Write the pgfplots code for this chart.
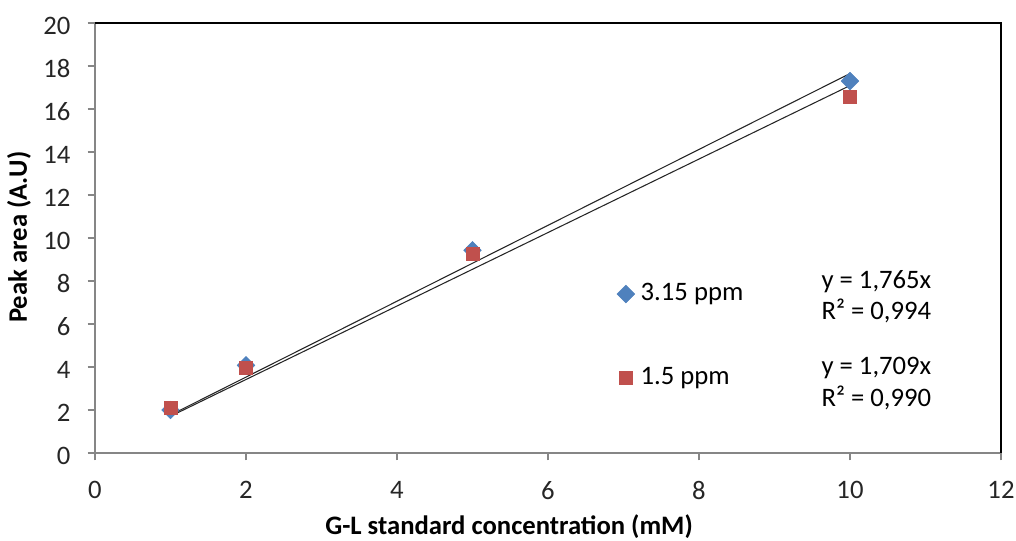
\documentclass[border=0pt]{standalone}
\usepackage{fontspec}
\setmainfont{Carlito}
\usepackage{pgfplots}
\pgfplotsset{compat=1.18}
\definecolor{xblue}{HTML}{4F81BD}
\definecolor{xred}{HTML}{C0504D}
\definecolor{axgray}{HTML}{868686}
\begin{document}
\fontsize{20}{23}\selectfont
\begin{tikzpicture}[x=1pt,y=1pt]
\begin{axis}[
  scale only axis,
  width=679.5pt, height=322.5pt,
  xmin=0, xmax=12, ymin=0, ymax=20,
  xtick={0,2,...,12}, ytick={0,2,...,20},
  axis x line*=bottom, axis y line*=left,
  axis line style={axgray, line width=0.8pt},
  tick style={axgray, line width=0.8pt},
  tick align=outside, major tick length=5.5pt,
  tick label style={font=\fontsize{20}{23}\selectfont, text=black!85},
  /pgf/number format/assume math mode=true,
  yticklabel style={xshift=-6pt, yshift=-2pt},
  xticklabel style={yshift=-9pt},
  xlabel={\bfseries G-L standard concentration (mM)},
  ylabel={\bfseries Peak area (A.U)},
  label style={font=\fontsize{20}{23}\selectfont, text=black},
  xlabel style={at={(axis description cs:0.457,-0.190)}, anchor=base},
  ylabel style={at={(axis description cs:-0.0751,0.502)}, anchor=base},
  legend style={draw=none, fill=none, at={(axis cs:6.91,7.9)}, anchor=north west,
    font=\fontsize{20}{23}\selectfont, row sep=47pt, inner sep=0pt,
    nodes={inner sep=0pt},
    /tikz/every odd column/.append style={column sep=4.5pt}},
  legend cell align=left,
  clip=false,
]
\addplot[only marks, mark=square*, mark options={rotate=45, fill=xblue, draw=xblue}, mark size=4.7pt]
  coordinates {(1,2.0) (2,4.08) (5,9.43) (10,17.3)};
\addlegendentry{3.15 ppm}
\addplot[only marks, mark=square*, mark options={fill=xred, draw=xred}, mark size=5pt]
  coordinates {(1,2.1) (2,3.97) (5,9.27) (10,16.58)};
\addlegendentry{1.5 ppm}
\addplot[forget plot, black!85, line width=0.8pt] coordinates {(1,1.765) (10,17.65)};
\addplot[forget plot, black!85, line width=0.8pt] coordinates {(1,1.709) (10,17.09)};
\draw[black, line width=0.8pt] (rel axis cs:0,1) -- (rel axis cs:1,1) -- (rel axis cs:1,0);
\node[anchor=base west, inner sep=0pt, font=\fontsize{20}{23}\selectfont] at (axis cs:9.62,7.67) {y = 1,765x};
\node[anchor=base west, inner sep=0pt, font=\fontsize{20}{23}\selectfont] at (axis cs:9.62,6.23) {R² = 0,994};
\node[anchor=base west, inner sep=0pt, font=\fontsize{20}{23}\selectfont] at (axis cs:9.62,3.63) {y = 1,709x};
\node[anchor=base west, inner sep=0pt, font=\fontsize{20}{23}\selectfont] at (axis cs:9.62,2.14) {R² = 0,990};
\end{axis}
\pgfresetboundingbox
\path (current axis.south west) ++(-71.25pt,-66pt) rectangle ([shift={(11.25pt,17.25pt)}]current axis.north east);
\end{tikzpicture}
\end{document}
